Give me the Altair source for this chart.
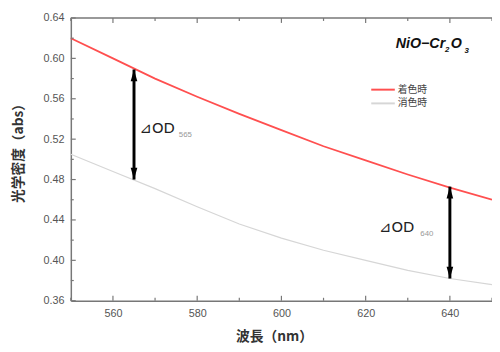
import altair as alt
import pandas as pd

# ---- data ----
wavelength = [550, 560, 570, 580, 590, 600, 610, 620, 630, 640, 650]
colored = [0.620, 0.600, 0.580, 0.562, 0.545, 0.529, 0.513, 0.499, 0.485, 0.472, 0.460]
bleached = [0.505, 0.488, 0.471, 0.453, 0.436, 0.422, 0.410, 0.400, 0.390, 0.382, 0.376]
series_names = ["着色時", "消色時"]
series_colors = ["#ff4f4f", "#d6d6d6"]

x_major = [560, 580, 600, 620, 640]
x_minor = [550, 570, 590, 610, 630, 650]
y_major = [0.36, 0.40, 0.44, 0.48, 0.52, 0.56, 0.60, 0.64]
y_minor = [0.38, 0.42, 0.46, 0.50, 0.54, 0.58, 0.62]

arrow_wl = [565, 640]
arrow_low = [0.480, 0.382]
arrow_high = [0.589, 0.473]
arrow_sub = ["565", "640"]

# ---- geometry ----
W, H = 429, 288
XD = [550, 650]
YD = [0.36, 0.64]
LEFT, TOP = 72, 15  # page coords of plot origin


def wl(px):
    return XD[0] + (px - LEFT) / W * (XD[1] - XD[0])


def val(py):
    return YD[1] - (py - TOP) / H * (YD[1] - YD[0])


xs = alt.Scale(domain=XD, nice=False, zero=False)
ys = alt.Scale(domain=YD, nice=False, zero=False)

x_axis = alt.Axis(values=x_major, title="波長（nm）", ticks=False, grid=False,
                  labelPadding=7, titleX=207, titleY=37, titleBaseline="middle",
                  titleAlign="center", titleFont="Noto Sans CJK JP",
                  titleFontSize=14, titleFontWeight="bold", titleColor="#333")
y_axis = alt.Axis(values=y_major, format=".2f", title="光学密度（abs）", ticks=False,
                  grid=False, labelPadding=7, titleX=-53, titleY=134,
                  titleAngle=-90, titleBaseline="middle", titleAlign="center",
                  titleFont="Noto Sans CJK JP", titleFontSize=14,
                  titleFontWeight="bold", titleColor="#333")


def X(f="x"):
    return alt.X(f"{f}:Q", scale=xs, axis=x_axis, title="波長（nm）")


def Y(f="y"):
    return alt.Y(f"{f}:Q", scale=ys, axis=y_axis, title="光学密度（abs）")


curves = pd.DataFrame({
    "x": wavelength * 2,
    "y": colored + bleached,
    "s": [series_names[0]] * len(wavelength) + [series_names[1]] * len(wavelength),
})

red_line = alt.Chart(curves[curves.s == series_names[0]]).mark_line(
    color=series_colors[0], strokeWidth=1.8).encode(x=X(), y=Y())
grey_line = alt.Chart(curves[curves.s == series_names[1]]).mark_line(
    color=series_colors[1], strokeWidth=1.2).encode(x=X(), y=Y())

# ticks (inward)
xt_major = pd.DataFrame({"x": x_major})
xt_minor = pd.DataFrame({"x": x_minor})
yt_major = pd.DataFrame({"y": y_major})
yt_minor = pd.DataFrame({"y": y_minor})
tick_col = "#777"
ticks = [
    alt.Chart(xt_major).mark_rule(color=tick_col, strokeWidth=1.2).encode(x=X(), y=alt.value(H), y2=alt.value(H - 5)),
    alt.Chart(xt_minor).mark_rule(color=tick_col, strokeWidth=1.2).encode(x=X(), y=alt.value(H), y2=alt.value(H - 3)),
    alt.Chart(xt_major).mark_rule(color=tick_col, strokeWidth=1.2).encode(x=X(), y=alt.value(0), y2=alt.value(5)),
    alt.Chart(xt_minor).mark_rule(color=tick_col, strokeWidth=1.2).encode(x=X(), y=alt.value(0), y2=alt.value(3)),
    alt.Chart(yt_major).mark_rule(color=tick_col, strokeWidth=1.2).encode(y=Y(), x=alt.value(0), x2=alt.value(5)),
    alt.Chart(yt_minor).mark_rule(color=tick_col, strokeWidth=1.2).encode(y=Y(), x=alt.value(0), x2=alt.value(3)),
]
top_border = alt.Chart(pd.DataFrame({"a": [0]})).mark_rule(color=tick_col, strokeWidth=1.5).encode(
    x=alt.value(0), x2=alt.value(W), y=alt.value(0))

# arrows
arr = pd.DataFrame({"x": arrow_wl, "y": arrow_low, "y2": arrow_high})
arrow_shaft = alt.Chart(arr).mark_rule(color="black", strokeWidth=3).encode(
    x=X(), y=Y(), y2="y2:Q")
up_head = alt.Chart(arr).mark_point(
    shape="M0,0L-0.42,1.5L0.42,1.5Z", filled=True, color="black", opacity=1, size=260
).encode(x=X(), y=Y("y2"))
down_head = alt.Chart(arr).mark_point(
    shape="M0,0L-0.42,-1.5L0.42,-1.5Z", filled=True, color="black", opacity=1, size=260
).encode(x=X(), y=Y())

# delta OD labels
dlab = pd.DataFrame({"x": [wl(142), wl(386)], "y": [val(127), val(228)]})
dsub = pd.DataFrame({"x": [wl(182), wl(428)], "y": [val(134), val(235)], "t": arrow_sub})
delta_text = alt.Chart(dlab).mark_text(
    text="⊿OD", align="left", baseline="middle", font="DejaVu Sans",
    fontSize=15, color="#222").encode(x=X(), y=Y())
delta_sub = alt.Chart(dsub).mark_text(
    align="left", baseline="middle", font="Liberation Sans",
    fontSize=8, color="#999").encode(x=X(), y=Y(), text="t:N")

# compound label NiO-Cr2O3
comp = pd.DataFrame({
    "x": [wl(403), wl(453), wl(459), wl(473)],
    "y": [val(46), val(50), val(46), val(51)],
    "t": ["NiO−Cr", "2", "O", "3"],
    "sz": [15, 8, 15, 8],
})
comp_main = alt.Chart(comp[comp.sz == 15]).mark_text(
    align="left", baseline="alphabetic", font="Liberation Sans", fontStyle="italic",
    fontWeight="bold", fontSize=14.5, color="#111").encode(x=X(), y=Y(), text="t:N")
comp_sub = alt.Chart(comp[comp.sz == 8]).mark_text(
    align="left", baseline="alphabetic", font="Liberation Sans", fontStyle="italic",
    fontWeight="bold", fontSize=8, color="#111").encode(x=X(), y=Y(), text="t:N")

# legend
leg = pd.DataFrame({
    "x": [wl(378)] * 2, "x2": [wl(402)] * 2,
    "y": [val(88), val(102)], "tx": [wl(405)] * 2, "s": series_names,
})
leg_lines = alt.Chart(leg).mark_rule(strokeWidth=2).encode(
    x=X(), x2="x2:Q", y=Y(),
    color=alt.Color("s:N", scale=alt.Scale(domain=series_names, range=series_colors), legend=None))
leg_text = alt.Chart(leg).mark_text(
    align="left", baseline="middle", font="Noto Sans CJK JP", fontSize=10,
    color="#444").encode(x=X("tx"), y=Y(), text="s:N")

chart = alt.layer(
    grey_line, red_line, *ticks, top_border,
    arrow_shaft, up_head, down_head,
    delta_text, delta_sub, comp_main, comp_sub, leg_lines, leg_text,
).properties(
    width=W, height=H,
    autosize=alt.AutoSizeParams(type="none"),
    padding={"left": LEFT - 8, "top": TOP - 8, "right": 0, "bottom": 46},
    background="white",
).configure_view(stroke=None).configure_axis(
    labelColor="#555", labelFont="Liberation Sans", labelFontSize=11,
    domainColor=tick_col, domainWidth=1.5,
)

chart.save("out.html", embed_options={"renderer": "svg", "actions": False})
